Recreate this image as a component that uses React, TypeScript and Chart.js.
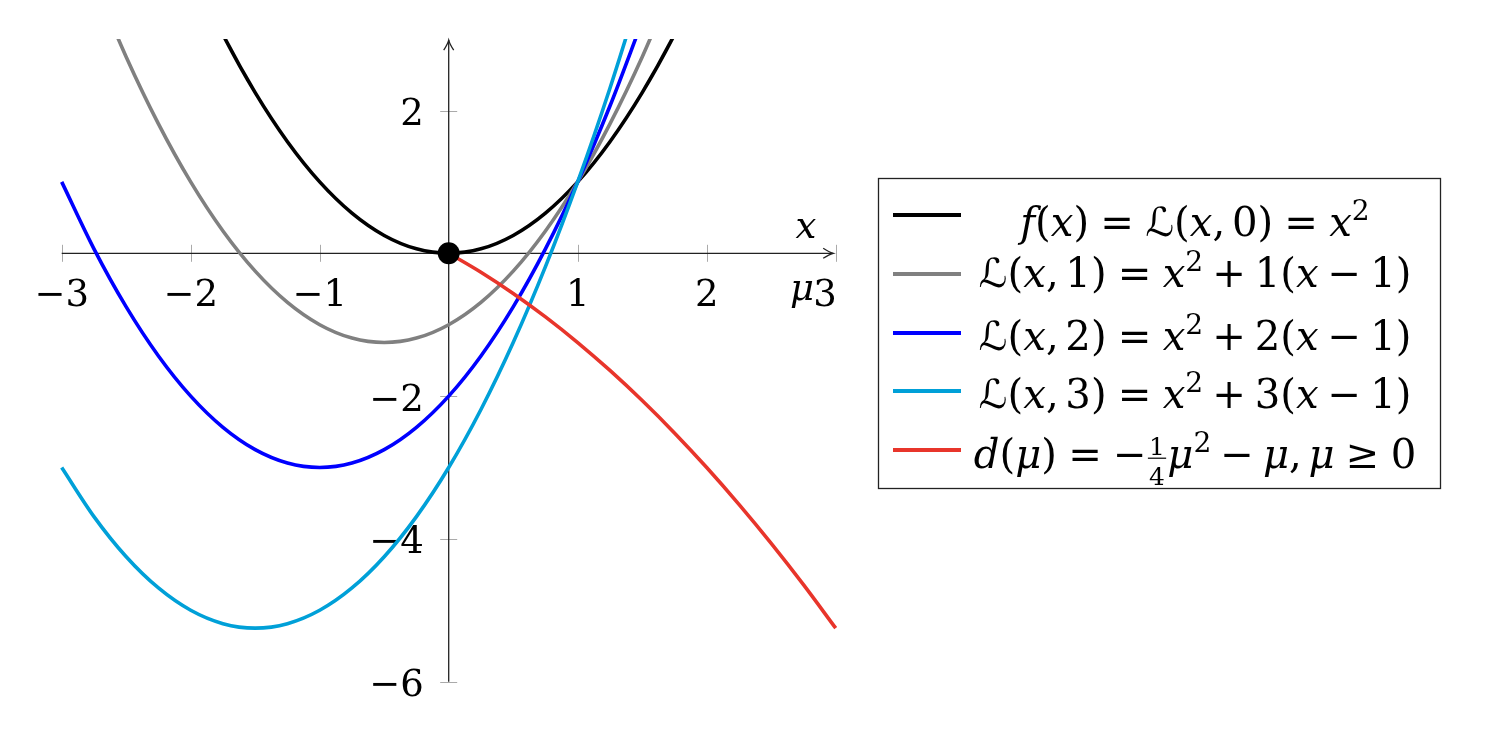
import React, { useEffect, useRef } from 'react';
import { Chart, registerables } from 'chart.js';

Chart.register(...registerables);

// ---------- data ----------
const xGrid = [-3, -2.75, -2.5, -2.25, -2, -1.75, -1.5, -1.25, -1, -0.75, -0.5, -0.25, 0, 0.25, 0.5, 0.75, 1, 1.25, 1.5, 1.75, 2, 2.25, 2.5, 2.75, 3];

const fValues = [null, null, null, null, 4, 3.0625, 2.25, 1.5625, 1, 0.5625, 0.25, 0.0625, 0, 0.0625, 0.25, 0.5625, 1, 1.5625, 2.25, 3.0625, 4, null, null, null, null];
const l1Values = [null, 3.8125, 2.75, 1.8125, 1, 0.3125, -0.25, -0.6875, -1, -1.1875, -1.25, -1.1875, -1, -0.6875, -0.25, 0.3125, 1, 1.8125, 2.75, 3.8125, null, null, null, null, null];
const l2Values = [1, 0.0625, -0.75, -1.4375, -2, -2.4375, -2.75, -2.9375, -3, -2.9375, -2.75, -2.4375, -2, -1.4375, -0.75, 0.0625, 1, 2.0625, 3.25, null, null, null, null, null, null];
const l3Values = [-3, -3.6875, -4.25, -4.6875, -5, -5.1875, -5.25, -5.1875, -5, -4.6875, -4.25, -3.6875, -3, -2.1875, -1.25, -0.1875, 1, 2.3125, 3.75, null, null, null, null, null, null];
const dualValues = [null, null, null, null, null, null, null, null, null, null, null, null, 0, -0.265625, -0.5625, -0.890625, -1.25, -1.640625, -2.0625, -2.515625, -3, -3.515625, -4.0625, -4.640625, -5.25];

const markerX = [0];
const markerY = [0];

const seriesLabels = [
  'f(x) = ℒ(x, 0) = x²',
  'ℒ(x, 1) = x² + 1(x − 1)',
  'ℒ(x, 2) = x² + 2(x − 1)',
  'ℒ(x, 3) = x² + 3(x − 1)',
  'd(μ) = −¼μ² − μ, μ ≥ 0',
];
const seriesColors = ['#000000', '#808080', '#0000ff', '#00a0d8', '#e8352b'];

const xTickValues = [-3, -2, -1, 1, 2, 3];
const xTickLabels = ['−3', '−2', '−1', '1', '2', '3'];
const yTickValues = [2, -2, -4, -6];
const yTickLabels = ['2', '−2', '−4', '−6'];
const xAxisLabel = 'x';
const muLabel = 'μ';

// legend math segments
type Seg = { t?: string; it?: boolean; sup?: boolean; sp?: number; num?: string; den?: string };
const T = 0.278, M = 0.222, S = 0.167;
const legendRow1: Seg[] = [{ t: 'f', it: true }, { t: '(' }, { t: 'x', it: true }, { t: ')' }, { sp: T }, { t: '=' }, { sp: T }, { t: 'ℒ' }, { t: '(' }, { t: 'x', it: true }, { t: ',' }, { sp: S }, { t: '0' }, { t: ')' }, { sp: T }, { t: '=' }, { sp: T }, { t: 'x', it: true }, { t: '2', sup: true }];
const lagRow = (k: string): Seg[] => [{ t: 'ℒ' }, { t: '(' }, { t: 'x', it: true }, { t: ',' }, { sp: S }, { t: k }, { t: ')' }, { sp: T }, { t: '=' }, { sp: T }, { t: 'x', it: true }, { t: '2', sup: true }, { sp: M }, { t: '+' }, { sp: M }, { t: k }, { t: '(' }, { t: 'x', it: true }, { sp: M }, { t: '−' }, { sp: M }, { t: '1' }, { t: ')' }];
const legendRow2 = lagRow('1');
const legendRow3 = lagRow('2');
const legendRow4 = lagRow('3');
const legendRow5: Seg[] = [{ t: 'd', it: true }, { t: '(' }, { t: 'μ', it: true }, { t: ')' }, { sp: T }, { t: '=' }, { sp: T }, { t: '−' }, { num: '1', den: '4' }, { t: 'μ', it: true }, { t: '2', sup: true }, { sp: M }, { t: '−' }, { sp: M }, { t: 'μ', it: true }, { t: ',' }, { sp: S }, { t: 'μ', it: true }, { sp: T }, { t: '≥' }, { sp: T }, { t: '0' }];
const legendRows = [legendRow1, legendRow2, legendRow3, legendRow4, legendRow5];

// ---------- layout (page px, canvas sits at 8,8) ----------
const OFF = 8;
const CW = 1486, CH = 732;
const FONT_FAMILY = '"DejaVu Serif", "DejaVu Sans", serif';
const LEG = { x: 878.5, y: 178.5, w: 562, h: 310 };
const legendLineY = [215, 274, 333, 391, 450];
const legendTextAxisY = [224, 275, 338, 396, 456];
const legendTextCenterX = 1195;
const legendTargetWidth = 433;

function font(size: number, it?: boolean) {
  return `${it ? 'italic ' : ''}${size}px ${FONT_FAMILY}`;
}

function rich(ctx: CanvasRenderingContext2D, segs: Seg[], x: number, base: number, size: number, draw: boolean) {
  let cx = x;
  for (const s of segs) {
    if (s.sp) { cx += s.sp * size; continue; }
    if (s.num !== undefined) {
      const fs = size * 0.62;
      ctx.font = font(fs);
      const wn = ctx.measureText(s.num).width;
      const wd = ctx.measureText(s.den!).width;
      const w = Math.max(wn, wd) + 0.12 * size;
      if (draw) {
        ctx.textAlign = 'center';
        ctx.fillText(s.num, cx + w / 2, base - 0.34 * size);
        ctx.fillText(s.den!, cx + w / 2, base + 0.4 * size);
        ctx.fillRect(cx + 0.03 * size, base - 0.27 * size, w - 0.06 * size, 1.2);
        ctx.textAlign = 'left';
      }
      cx += w;
      continue;
    }
    const fs = s.sup ? size * 0.7 : size;
    ctx.font = font(fs, s.it);
    const dy = s.sup ? -0.42 * size : 0;
    if (draw) ctx.fillText(s.t!, cx, base + dy);
    cx += ctx.measureText(s.t!).width;
  }
  return cx - x;
}

function arrowHead(ctx: CanvasRenderingContext2D, tx: number, ty: number, dir: 'right' | 'up') {
  ctx.beginPath();
  if (dir === 'right') {
    ctx.moveTo(tx - 10, ty - 5);
    ctx.quadraticCurveTo(tx - 4, ty - 1, tx, ty);
    ctx.quadraticCurveTo(tx - 4, ty + 1, tx - 10, ty + 5);
  } else {
    ctx.moveTo(tx - 5, ty + 10);
    ctx.quadraticCurveTo(tx - 1, ty + 4, tx, ty);
    ctx.quadraticCurveTo(tx + 1, ty + 4, tx + 5, ty + 10);
  }
  ctx.stroke();
}

const axesPlugin = {
  id: 'mathAxes',
  beforeDatasetsDraw(chart: any) {
    const ctx: CanvasRenderingContext2D = chart.ctx;
    const xs = chart.scales.x, ys = chart.scales.y;
    const x0 = xs.getPixelForValue(0), y0 = ys.getPixelForValue(0);
    ctx.save();
    // tick marks
    ctx.strokeStyle = '#aaaaaa';
    ctx.lineWidth = 1;
    for (const v of xTickValues) {
      const px = Math.round(xs.getPixelForValue(v)) + 0.5;
      ctx.beginPath(); ctx.moveTo(px, y0 - 8.5); ctx.lineTo(px, y0 + 8.5); ctx.stroke();
    }
    for (const v of yTickValues) {
      const py = Math.round(ys.getPixelForValue(v)) + 0.5;
      ctx.beginPath(); ctx.moveTo(x0 - 8.5, py); ctx.lineTo(x0 + 8.5, py); ctx.stroke();
    }
    // axis lines
    ctx.strokeStyle = '#222222';
    ctx.lineWidth = 1.3;
    const xTip = xs.getPixelForValue(3) - 2.5;
    ctx.beginPath(); ctx.moveTo(xs.getPixelForValue(-3), y0); ctx.lineTo(xTip, y0); ctx.stroke();
    arrowHead(ctx, xTip, y0, 'right');
    const yTip = ys.getPixelForValue(3) + 1;
    ctx.beginPath(); ctx.moveTo(x0, ys.getPixelForValue(-6)); ctx.lineTo(x0, yTip); ctx.stroke();
    arrowHead(ctx, x0, yTip, 'up');
    // tick labels
    ctx.fillStyle = '#000000';
    ctx.font = font(37);
    ctx.textBaseline = 'alphabetic';
    xTickValues.forEach((v, i) => {
      const px = xs.getPixelForValue(v);
      const last = i === xTickValues.length - 1;
      ctx.textAlign = last ? 'right' : 'center';
      ctx.fillText(xTickLabels[i], last ? px + 1 : px, y0 + 52.5);
    });
    ctx.textAlign = 'right';
    yTickValues.forEach((v, i) => {
      const py = ys.getPixelForValue(v);
      ctx.fillText(yTickLabels[i], x0 - 25, py + 14.5);
    });
    // axis labels
    ctx.font = font(37, true);
    ctx.textAlign = 'center';
    ctx.fillText(xAxisLabel, 806 - OFF, 238 - OFF);
    ctx.textAlign = 'right';
    ctx.fillText(muLabel, 814 - OFF, 300 - OFF);
    ctx.restore();
  },
  afterDraw(chart: any) {
    const ctx: CanvasRenderingContext2D = chart.ctx;
    ctx.save();
    ctx.strokeStyle = '#222222';
    ctx.lineWidth = 1.3;
    ctx.strokeRect(LEG.x - OFF, LEG.y - OFF, LEG.w, LEG.h);
    ctx.lineWidth = 4;
    legendLineY.forEach((y, i) => {
      ctx.strokeStyle = seriesColors[i];
      ctx.beginPath(); ctx.moveTo(893 - OFF, y - OFF); ctx.lineTo(961 - OFF, y - OFF); ctx.stroke();
    });
    ctx.fillStyle = '#000000';
    ctx.textBaseline = 'alphabetic';
    ctx.textAlign = 'left';
    const baseSize = 40;
    const w2 = rich(ctx, legendRow2, 0, 0, baseSize, false);
    const size = baseSize * legendTargetWidth / w2;
    legendRows.forEach((segs, i) => {
      const w = rich(ctx, segs, 0, 0, size, false);
      const sx = legendTextCenterX - OFF - w / 2;
      const base = legendTextAxisY[i] - OFF + 0.31 * size;
      rich(ctx, segs, sx, base, size, true);
    });
    ctx.restore();
  },
};

function toPoints(values: (number | null)[]) {
  return xGrid.map((x, i) => ({ x, y: values[i] }));
}

export default function App() {
  const ref = useRef<HTMLCanvasElement>(null);
  useEffect(() => {
    if (!ref.current) return;
    const clip = { left: 4, right: 4, top: 0, bottom: 4 };
    const seriesValues = [fValues, l1Values, l2Values, l3Values, dualValues];
    const lineSets: any[] = seriesValues.map((vals, i) => ({
      type: 'line',
      label: seriesLabels[i],
      data: toPoints(vals),
      borderColor: seriesColors[i],
      backgroundColor: seriesColors[i],
      borderWidth: 3.6,
      pointRadius: 0,
      cubicInterpolationMode: 'monotone',
      fill: false,
      spanGaps: false,
      clip,
      order: 5 - i,
    }));
    lineSets.push({
      type: 'scatter',
      label: 'x* = 0',
      data: markerX.map((x, i) => ({ x, y: markerY[i] })),
      pointRadius: 11,
      pointBackgroundColor: '#000000',
      pointBorderWidth: 0,
      backgroundColor: '#000000',
      clip: false,
      order: -1,
    });
    const chart = new Chart(ref.current, {
      type: 'line',
      data: { datasets: lineSets },
      options: {
        responsive: false,
        animation: false,
        events: [],
        layout: { padding: { left: 53.7, right: CW - 827.7, top: 31.1, bottom: CH - 673.7 } },
        scales: {
          x: { type: 'linear', min: -3, max: 3, display: false },
          y: { type: 'linear', min: -6, max: 3, display: false },
        },
        plugins: { legend: { display: false }, tooltip: { enabled: false } },
      },
      plugins: [axesPlugin],
    } as any);
    return () => chart.destroy();
  }, []);
  return (
    <div style={{ width: CW, height: CH }}>
      <canvas ref={ref} width={CW} height={CH} style={{ display: 'block', width: CW, height: CH }} />
    </div>
  );
}
